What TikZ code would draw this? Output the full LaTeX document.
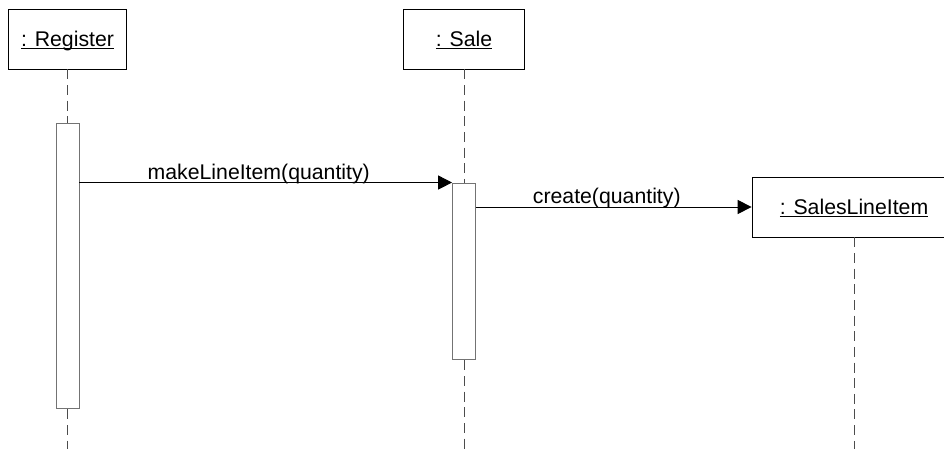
\documentclass[tikz,border=0pt]{standalone}
\usepackage{fontspec}
\setmainfont{Liberation Sans}
\usetikzlibrary{arrows.meta}

\newcommand{\objname}[1]{\setbox0\hbox{#1}\rlap{\rule[-1.5pt]{\wd0}{0.5pt}}\box0}

\begin{document}
\begin{tikzpicture}[x=0.02cm,y=-0.02cm,
  font=\fontsize{12.1}{14.5}\selectfont,
  object/.style={draw,line width=0.55pt,minimum height=1.2cm,inner sep=0pt,text height=8.7pt,text depth=0pt},
  activation/.style={draw=black!55,fill=white,line width=0.55pt,minimum width=0.46cm,inner sep=0pt},
  lifeline/.style={black!70,line width=0.55pt,dash pattern=on 5.7pt off 3.2pt},
  message/.style={line width=0.55pt,-{Triangle[length=7.9pt,width=8pt]}},
  msglabel/.style={anchor=base,inner sep=0pt,yshift=0.06cm,xshift=-0.14cm}]
\clip (0,0) rectangle (944,449);

% objects
\node[object,minimum width=2.37cm] (reg) at (67.5,39) {\objname{: Register}};
\node[object,minimum width=2.42cm] (sale) at (464,39) {\objname{: Sale}};
\node[object,minimum width=4.4cm] (sli) at (862,207) {};
\node[inner sep=0pt,text height=8.7pt,text depth=0pt] (sliName) at (854,207) {\objname{: SalesLineItem}};

% activations
\node[activation,minimum height=5.72cm] (regAct) at (67.5,266) {};
\node[activation,minimum height=3.54cm] (saleAct) at (464,271.5) {};

% lifelines
\coordinate (regEnd) at (67.5,449);
\coordinate (saleEnd) at (464,449);
\coordinate (sliEnd) at (854,449);
\draw[lifeline] (reg.south) -- (regAct.north) (regAct.south) -- (regEnd);
\draw[lifeline] (sale.south) -- (saleAct.north) (saleAct.south) -- (saleEnd);
\draw[lifeline] (sli.south -| sliName) -- (sliEnd);

% messages
\draw[message] (regAct.east |- saleAct.north) -- node[msglabel,midway] {makeLineItem(quantity)} (saleAct.north west);
\draw[message] (saleAct.east |- sli.west) -- node[msglabel,midway] {create(quantity)} (sli.west);
\end{tikzpicture}
\end{document}
